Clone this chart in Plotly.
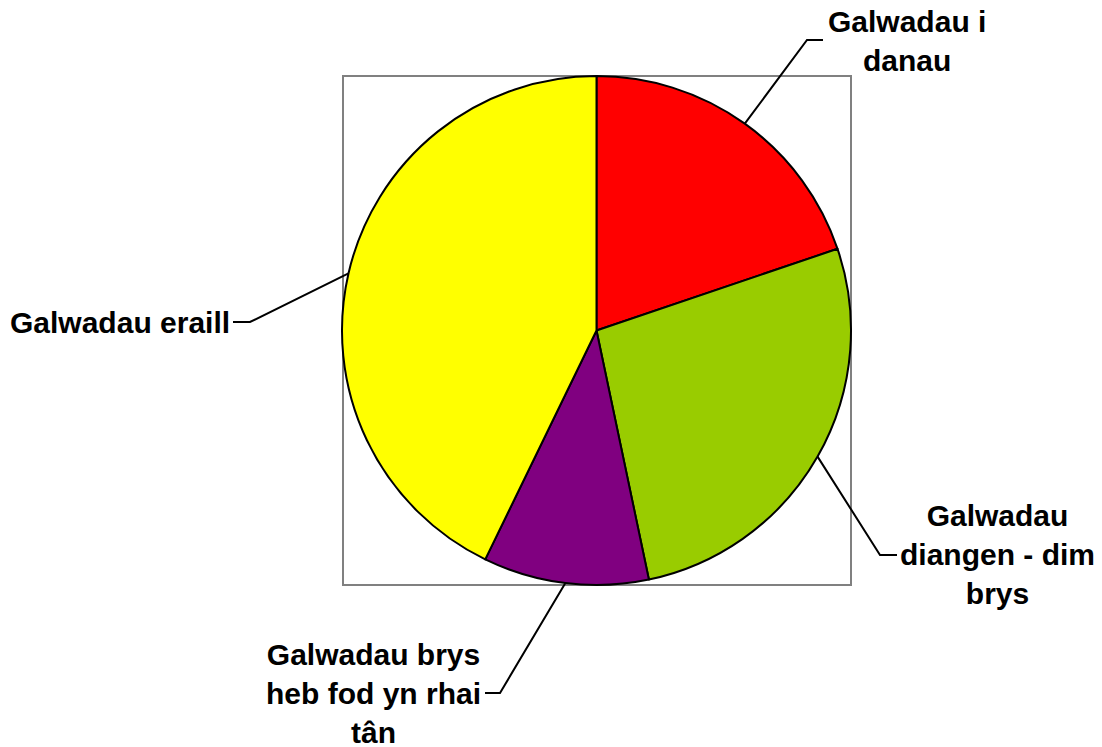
import math
import plotly.graph_objects as go

# ---- data ----
categories = ["Galwadau i<br>danau",
              "Galwadau<br>diangen - dim<br>brys",
              "Galwadau brys<br>heb fod yn rhai<br>tân",
              "Galwadau eraill"]
values = [19.8, 26.9, 10.5, 42.8]
colors = ["#FF0000", "#99CC00", "#800080", "#FFFF00"]

# ---- layout geometry (pixels in the screenshot) ----
W, H = 1102, 747
OFF = 8  # page body margin
CX, CY, R = 596.5, 330.5, 254.5
# elbow, stub end, label anchor (x, y, xanchor)
elbows = [(807, 40), (880, 555), (500, 693), (250, 322)]
stubs = [(823, 40), (897, 555), (485, 693), (233, 322)]
label_pos = [(826, 41, "left"), (898, 554, "left"), (483, 693, "right"), (232, 322, "right")]


def px(x):
    return (x - OFF) / W


def py(y):
    return 1 - (y - OFF) / H


fig = go.Figure(go.Pie(
    labels=[c.replace("<br>", " ") for c in categories],
    values=values,
    sort=False,
    direction="clockwise",
    rotation=0,
    textinfo="none",
    hoverinfo="label+value",
    marker=dict(colors=colors, line=dict(color="#000000", width=2)),
    domain=dict(x=[px(CX - R), px(CX + R)], y=[py(CY + R), py(CY - R)]),
    showlegend=False,
))

shapes = [dict(type="rect", xref="paper", yref="paper",
               x0=px(343), x1=px(851), y0=py(585), y1=py(76),
               line=dict(color="#808080", width=2), layer="below")]

annotations = []
total = sum(values)
cum = 0.0
for i, v in enumerate(values):
    mid = (cum + v / 2) / total * 2 * math.pi
    cum += v
    sx = CX + R * math.sin(mid)
    sy = CY - R * math.cos(mid)
    ex, ey = elbows[i]
    tx, ty = stubs[i]
    path = f"M {px(sx)} {py(sy)} L {px(ex)} {py(ey)} L {px(tx)} {py(ty)}"
    shapes.append(dict(type="path", xref="paper", yref="paper", path=path,
                       line=dict(color="#000000", width=2)))
    lx, ly, anc = label_pos[i]
    annotations.append(dict(
        x=px(lx), y=py(ly), xref="paper", yref="paper",
        xanchor=anc, yanchor="middle", align="center",
        text=categories[i], showarrow=False,
        font=dict(family="Liberation Sans, Arial, sans-serif", size=30,
                  color="#000000", weight="bold"),
    ))

fig.update_layout(
    width=W, height=H,
    margin=dict(l=0, r=0, t=0, b=0),
    paper_bgcolor="white", plot_bgcolor="white",
    shapes=shapes, annotations=annotations,
)

fig.write_html("out.html")
